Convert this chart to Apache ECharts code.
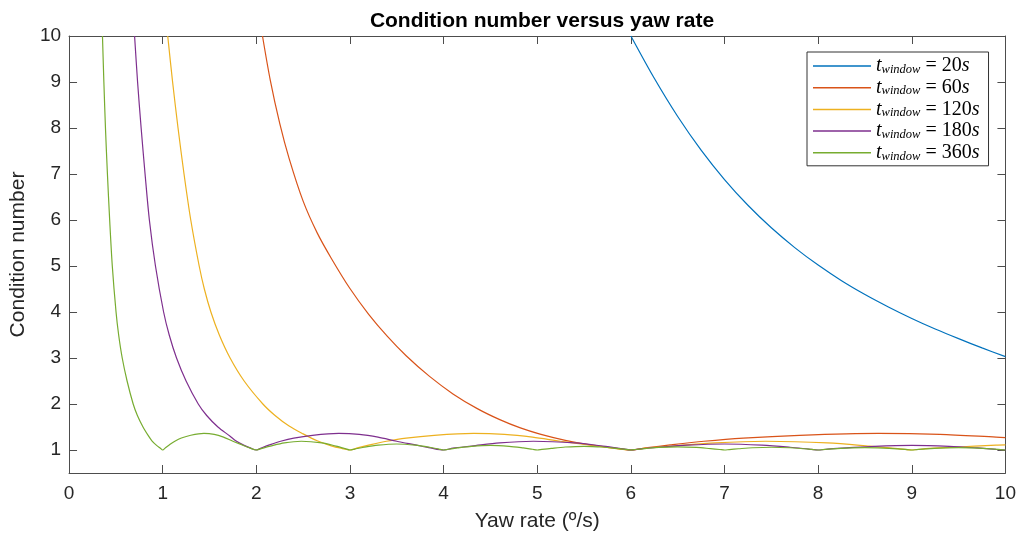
<!DOCTYPE html>
<html><head><meta charset="utf-8">
<script src="https://cdn.jsdelivr.net/npm/echarts@6/dist/echarts.min.js"></script>
<style>html,body{margin:0;padding:0;background:#fff}#c{width:1019px;height:537px}</style>
</head><body><div id="c"></div>
<script>
const xTicks = [0,1,2,3,4,5,6,7,8,9,10];
const yTicks = [1,2,3,4,5,6,7,8,9,10];
const names = ['t_window = 20s','t_window = 60s','t_window = 120s','t_window = 180s','t_window = 360s'];
const colors = ['#0072BD','#D95319','#EDB120','#7E2F8E','#77AC30'];

const x20 = [6.0,6.25,6.5,6.75,7.0,7.25,7.5,7.75,8.0,8.25,8.5,8.75,9.0,9.25,9.5,9.75,10];
const y20 = [10,9.08,8.25,7.52,6.88,6.32,5.83,5.4,5.02,4.68,4.38,4.11,3.86,3.63,3.42,3.22,3.03];

const x60 = [2.066,2.15,2.25,2.35,2.5,2.65,2.8,3.0,3.2,3.4,3.6,3.85,4.1,4.36,4.6,4.82,5.03,5.3,5.55,5.8,5.93,6.0,6.18,6.42,6.78,7.2,7.8,8.64,9.3,9.9,10];
const y60 = [10,9.03,8.1,7.34,6.41,5.72,5.17,4.51,3.95,3.47,3.05,2.6,2.22,1.9,1.66,1.48,1.345,1.21,1.115,1.045,1.013,1.0,1.05,1.11,1.19,1.26,1.32,1.36,1.34,1.28,1.27];

const x120 = [1.054,1.106,1.164,1.228,1.30,1.39,1.445,1.515,1.605,1.72,1.87,2.07,2.2,2.35,2.5,2.65,2.8,2.92,3.0,3.09,3.21,3.39,3.6,3.9,4.32,4.65,4.95,5.25,5.55,5.79,6.0,6.15,6.45,6.9,7.44,8.1,8.55,8.85,9.0,9.15,9.45,9.9,10];
const y120 = [10,9,8,7,6,5,4.5,4,3.5,3,2.5,2,1.75,1.52,1.35,1.2,1.09,1.03,1.0,1.05,1.11,1.19,1.26,1.32,1.36,1.34,1.28,1.19,1.11,1.045,1.0,1.04,1.085,1.155,1.19,1.155,1.085,1.03,1.0,1.03,1.06,1.105,1.11];

const x180 = [0.70,0.732,0.77,0.812,0.858,0.923,1.01,1.07,1.148,1.25,1.38,1.47,1.59,1.72,1.78,1.87,1.94,2.0,2.06,2.14,2.26,2.4,2.6,2.88,3.1,3.3,3.5,3.7,3.86,4.0,4.1,4.3,4.6,4.96,5.4,5.7,5.9,6.0,6.1,6.3,6.6,7.0,7.4,7.7,7.9,8.0,8.1,8.3,8.6,9.0,9.4,9.7,9.9,10];
const y180 = [10,9,8,7,6,5,4,3.5,3,2.5,2,1.75,1.5,1.3,1.2,1.1,1.04,1.0,1.05,1.11,1.19,1.26,1.32,1.36,1.34,1.28,1.19,1.11,1.045,1.0,1.04,1.085,1.155,1.19,1.155,1.085,1.03,1.0,1.025,1.06,1.105,1.13,1.105,1.06,1.02,1.0,1.02,1.045,1.08,1.10,1.08,1.045,1.015,1.0];

const x360 = [0.357,0.372,0.389,0.41,0.434,0.462,0.502,0.53,0.568,0.62,0.685,0.73,0.79,0.85,0.885,0.935,0.975,1.0,1.03,1.07,1.13,1.2,1.3,1.44,1.55,1.65,1.75,1.85,1.93,2.0,2.05,2.15,2.3,2.48,2.7,2.85,2.95,3.0,3.05,3.15,3.3,3.5,3.7,3.85,3.95,4.0,4.05,4.15,4.3,4.5,4.7,4.85,4.95,5.0,5.05,5.15,5.3,5.5,5.7,5.85,5.95,6.0,6.05,6.15,6.3,6.5,6.7,6.85,6.95,7.0,7.05,7.15,7.3,7.5,7.7,7.85,7.95,8.0,8.05,8.15,8.3,8.5,8.7,8.85,8.95,9.0,9.05,9.15,9.3,9.5,9.7,9.85,9.95,10];
const y360 = [10,9,8,7,6,5,4,3.5,3,2.5,2,1.75,1.5,1.3,1.2,1.1,1.04,1.0,1.05,1.11,1.19,1.26,1.32,1.36,1.34,1.28,1.19,1.11,1.045,1.0,1.03,1.085,1.155,1.19,1.155,1.085,1.03,1.0,1.02,1.06,1.105,1.13,1.105,1.06,1.02,1.0,1.016,1.045,1.08,1.10,1.08,1.045,1.016,1.0,1.013,1.036,1.065,1.08,1.065,1.036,1.013,1.0,1.011,1.03,1.057,1.07,1.057,1.03,1.011,1.0,1.01,1.027,1.049,1.06,1.049,1.027,1.01,1.0,1.008,1.023,1.04,1.05,1.04,1.023,1.008,1.0,1.008,1.023,1.04,1.05,1.04,1.023,1.008,1.0];

const xs = [x20,x60,x120,x180,x360];
const ys = [y20,y60,y120,y180,y360];

const axisColor = '#4d4d4d';
const labelColor = '#262626';
const font = 'Liberation Sans';

const chart = echarts.init(document.getElementById('c'), null, {renderer:'canvas'});
const series = names.map((n,i)=>({
  name: n, type:'line', symbol:'none', smooth:0.3, clip:true,
  lineStyle:{color:colors[i], width:1.2}, itemStyle:{color:colors[i]},
  data: xs[i].map((x,j)=>[x, ys[i][j]])
}));

function axisCommon(){
  return {
    axisLine:{show:true, onZero:false, lineStyle:{color:axisColor, width:1}},
    splitLine:{show:false}
  };
}

chart.setOption({
  animation:false,
  backgroundColor:'#fff',
  title:{
    text:'Condition number versus yaw rate', left:537, top:6, textAlign:'center',
    textStyle:{fontFamily:font, fontSize:21, fontWeight:'bold', color:'#000'}
  },
  grid:{left:68, right:13, top:36, bottom:62, containLabel:false},
  legend:{
    orient:'vertical', left:807, top:52, padding:[4,9,3,6],
    borderColor:'#333', borderWidth:1, backgroundColor:'#fff',
    icon:'rect', itemWidth:58, itemHeight:1.5, itemGap:1.7,
    data: names,
    formatter: function(name){
      const v = name.split('= ')[1];
      return '{t|t}{w|window}{e| = ' + v.slice(0,-1) + '}{s|s}';
    },
    textStyle:{
      rich:{
        t:{fontFamily:'Liberation Serif', fontStyle:'italic', fontSize:20, lineHeight:20, verticalAlign:'middle', color:'#000'},
        w:{fontFamily:'Liberation Serif', fontStyle:'italic', fontSize:12.5, lineHeight:10, verticalAlign:'bottom', color:'#000'},
        e:{fontFamily:'Liberation Serif', fontSize:20, lineHeight:20, verticalAlign:'middle', color:'#000'},
        s:{fontFamily:'Liberation Serif', fontStyle:'italic', fontSize:20, lineHeight:20, verticalAlign:'middle', color:'#000'}
      }
    }
  },
  xAxis:[
    Object.assign(axisCommon(), {
      type:'value', min:0, max:10, position:'bottom',
      axisTick:{show:true, inside:true, length:8, customValues:xTicks, lineStyle:{color:axisColor}},
      axisLabel:{show:true, customValues:xTicks, fontFamily:font, fontSize:19, color:labelColor, margin:11},
      name:'Yaw rate (º/s)', nameLocation:'middle', nameGap:38,
      nameTextStyle:{fontFamily:font, fontSize:21, color:labelColor}
    }),
    Object.assign(axisCommon(), {
      type:'value', min:0, max:10, position:'top',
      axisTick:{show:true, inside:true, length:8, customValues:xTicks, lineStyle:{color:axisColor}},
      axisLabel:{show:false}
    })
  ],
  yAxis:[
    Object.assign(axisCommon(), {
      type:'value', min:0.5, max:10, position:'left',
      axisTick:{show:true, inside:true, length:8, customValues:yTicks, lineStyle:{color:axisColor}},
      axisLabel:{show:true, customValues:yTicks, fontFamily:font, fontSize:19, color:labelColor, margin:8},
      name:'Condition number', nameLocation:'middle', nameGap:37,
      nameTextStyle:{fontFamily:font, fontSize:21, color:labelColor}
    }),
    Object.assign(axisCommon(), {
      type:'value', min:0.5, max:10, position:'right',
      axisTick:{show:true, inside:true, length:8, customValues:yTicks, lineStyle:{color:axisColor}},
      axisLabel:{show:false}
    })
  ],
  series: series
});
</script>
</body></html>
